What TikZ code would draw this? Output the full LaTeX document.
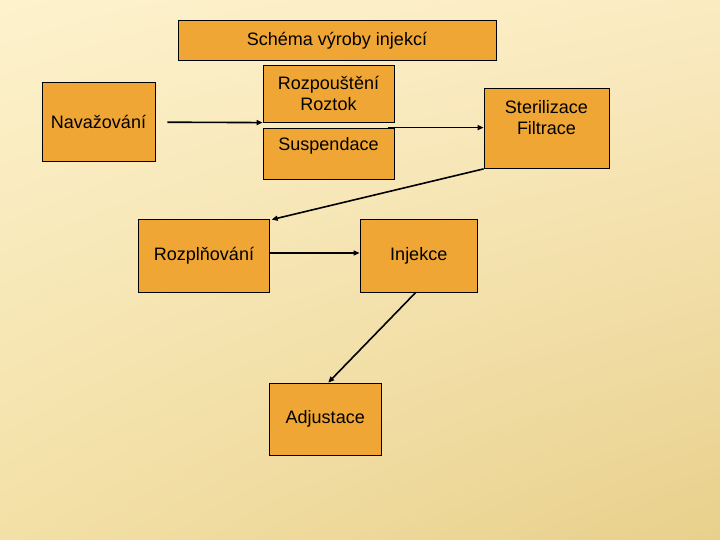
\documentclass[tikz,border=0pt]{standalone}
\usepackage{fontspec}
\setmainfont{Liberation Sans}
\usetikzlibrary{arrows.meta,shadings}
\definecolor{boxorange}{HTML}{F0A634}
\definecolor{bgtopleft}{HTML}{FDF2CD}
\definecolor{bgtopright}{HTML}{FBEBC2}
\definecolor{bgbotleft}{HTML}{F3E0A6}
\definecolor{bgbotright}{HTML}{E8D08C}
\begin{document}
\begin{tikzpicture}[x=1pt,y=-1pt,
        box/.style={draw, line width=0.8pt, fill=boxorange, inner sep=0pt, align=center,
                    font=\fontsize{18}{21}\selectfont},
        arr/.style={-{Triangle[length=6pt,width=5pt]}, line width=1.6pt}]
                \shade[upper left=bgtopleft, upper right=bgtopright, lower left=bgbotleft, lower right=bgbotright]
                    (0,0) rectangle (720,540);
                \useasboundingbox (0,0) rectangle (720,540);
                \node[box, minimum width=318pt, minimum height=39.6pt] at (337,40.5) (title) {Schéma výroby injekcí};
                \node[box, minimum width=113pt, minimum height=79pt] at (98.5,122.2) (nav) {Navažování};
                \node[box, minimum width=131pt, minimum height=56.8pt] at (328.5,93.8) (roz) {Rozpouštění\\Roztok};
                \node[box, minimum width=131pt, minimum height=51pt, text height=13pt, text depth=19pt] at (328.5,153.5) (susp) {Suspendace};
                \node[box, minimum width=125pt, minimum height=80pt, text height=34pt, text depth=21pt] at (546.5,128.5) (steril) {Sterilizace\\Filtrace};
                \node[box, minimum width=130.5pt, minimum height=73pt] at (204,255.5) (rozpl) {Rozplňování};
                \node[box, minimum width=117.5pt, minimum height=73pt] at (418.75,255.5) (inj) {Injekce};
                \node[box, minimum width=111.5pt, minimum height=72pt] at (325.25,419) (adj) {Adjustace};
                \draw [arr] ([xshift=12pt]nav.east) -- (roz.south west);
                \draw [arr] ([xshift=-6pt]susp.north east) -- (steril.west |- susp.north);
                \draw [arr] (steril.south west) -- ([xshift=2pt,yshift=-1pt]rozpl.north east);
                \draw [arr] ([yshift=2.5pt]rozpl.east) -- ([yshift=2.5pt]inj.west);
                \draw [arr] ([xshift=-3pt]inj.south) -- ([xshift=3pt]adj.north);
            \end{tikzpicture}
\end{document}
